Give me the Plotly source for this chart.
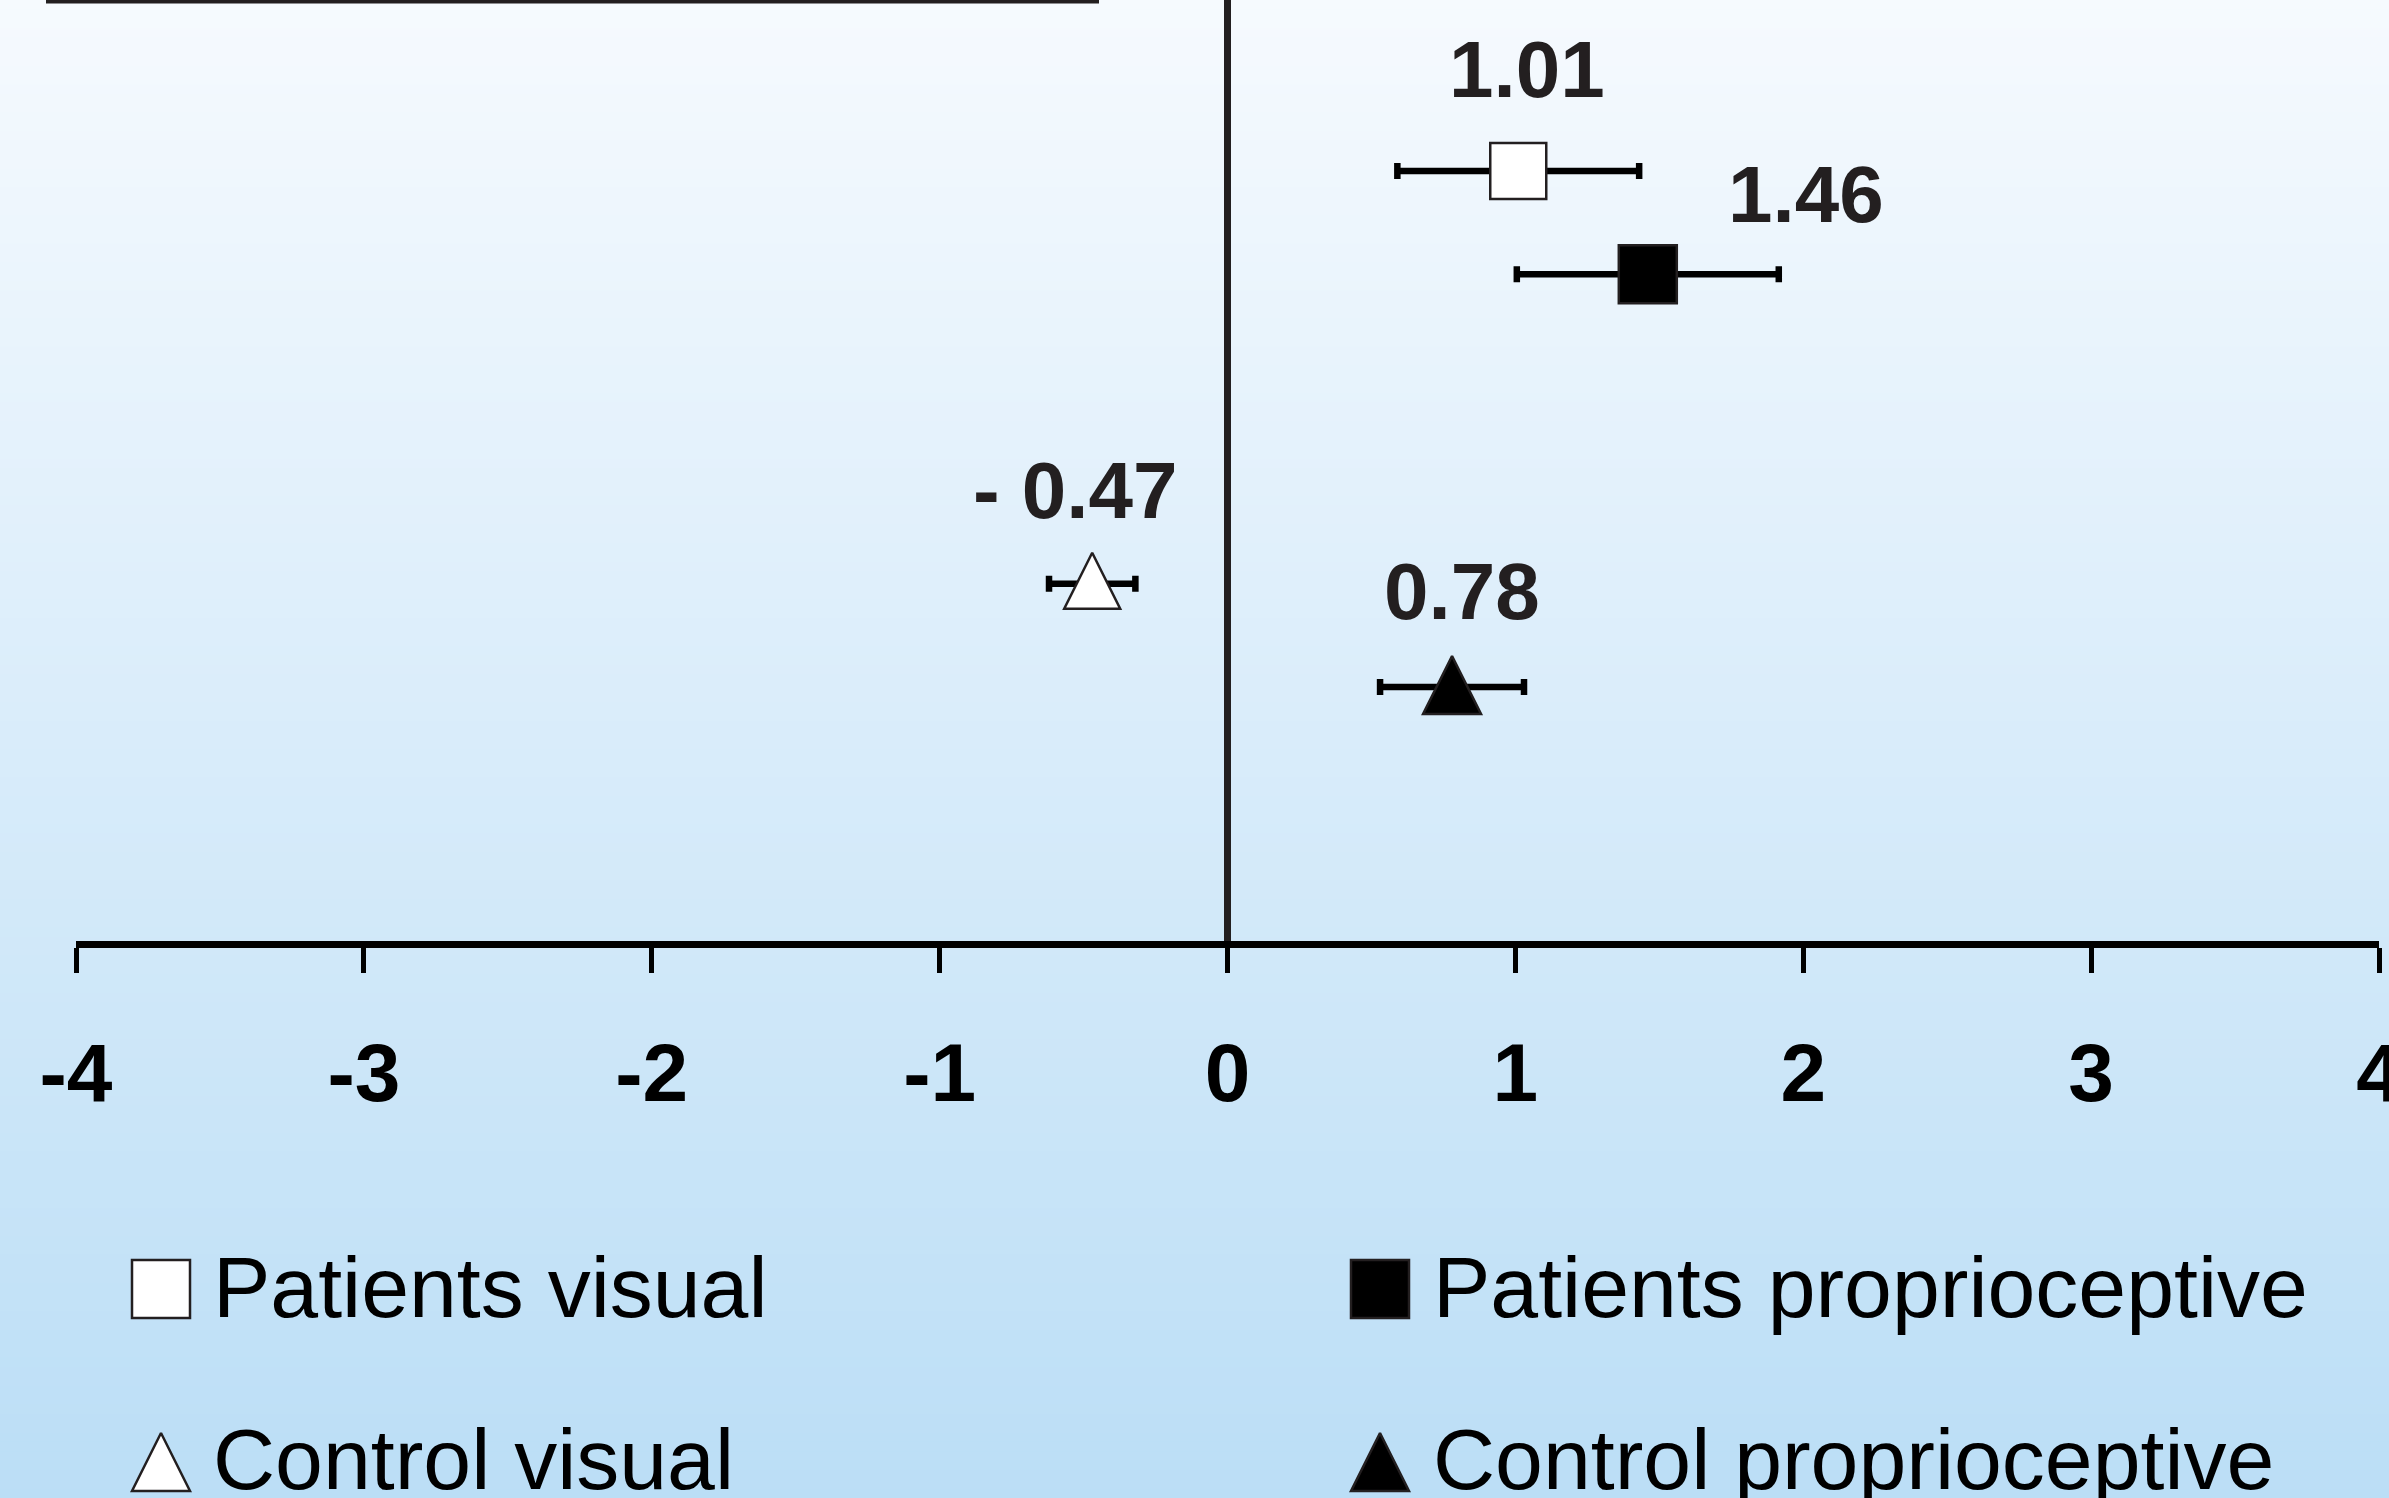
import plotly.graph_objects as go

# ---------------- data ----------------
groups = ["Patients visual", "Patients proprioceptive", "Control visual", "Control proprioceptive"]
means = [1.01, 1.46, -0.47, 0.78]
errors = [0.42, 0.455, 0.15, 0.25]
value_labels = ["1.01", "1.46", "- 0.47", "0.78"]
rows = [0, 1, 4, 5]           # ordinal row of each group (top to bottom)
tick_vals = [-4, -3, -2, -1, 0, 1, 2, 3, 4]
tick_text = ["-4", "-3", "-2", "-1", "0", "1", "2", "3", "4"]

# ---------------- styles / layout constants ----------------
W, H = 2389, 1498
X_LEFT_PX, X_RIGHT_PX = 76, 2379      # pixel positions of x=-4 and x=4
AXIS_PX = 941                          # bottom of main plot area
ROW0_PX = 171                          # pixel y of first row
ROW_PX = 103.2                         # pixels per row step
INK = "#231f20"
FONT = "Liberation Sans, Arial, sans-serif"

symbols = ["square", "square", "arrow-up", "arrow-up"]
fills = ["white", "black", "white", "black"]
msizes = [56, 58, 56, 58]
# label offsets (px) relative to each point: (dx, dy-up)
label_offsets = [(9, 102), (158, 80), (-17, 93), (10, 96)]
TRI_APEX_PX = 31   # triangle apex sits this far above its error bar

y_top = -ROW0_PX / ROW_PX
y_bot = (AXIS_PX - ROW0_PX) / ROW_PX

fig = go.Figure()

# background gradient (strips)
top_c = (246, 250, 254)
bot_c = (187, 222, 246)
N = 160
for i in range(N):
    t = (i + 0.5) / N
    c = tuple(round(top_c[k] + (bot_c[k] - top_c[k]) * t) for k in range(3))
    fig.add_shape(type="rect", xref="paper", yref="paper",
                  x0=0, x1=1, y0=1 - i / N, y1=1 - (i + 1) / N - 0.002,
                  fillcolor=f"rgb{c}", line_width=0, layer="below")

for g, m, e, r, sym, fc, ms in zip(groups, means, errors, rows, symbols, fills, msizes):
    # error bar
    fig.add_trace(go.Scatter(
        x=[m], y=[r], mode="markers",
        marker=dict(size=1, color="rgba(0,0,0,0)"),
        error_x=dict(type="data", array=[e], color="black", thickness=6.5, width=8),
        showlegend=False, hoverinfo="skip"))
    # marker
    ym = r - (TRI_APEX_PX / ROW_PX if sym == "arrow-up" else 0)
    fig.add_trace(go.Scatter(
        x=[m], y=[ym], mode="markers", name=g,
        marker=dict(symbol=sym, size=ms, color=fc, line=dict(color=INK, width=2.5)),
        showlegend=False))

for m, r, lab, (dx, dy) in zip(means, rows, value_labels, label_offsets):
    fig.add_annotation(x=m, y=r, xref="x", yref="y", text=lab, showarrow=False,
                       xshift=dx, yshift=dy, xanchor="center", yanchor="middle",
                       font=dict(family=FONT, size=80, color=INK, weight="bold"))

# ---------- legend (drawn manually on a pixel overlay axis) ----------
leg_marker_x = [161, 1380, 161, 1380]
leg_marker_y = [1289, 1289, 1433, 1433]
leg_text_x = [211, 1431, 211, 1431]
leg_text_y = [1287, 1287, 1459, 1459]
leg_sizes = [58, 58, 58, 58]
for g, sym, fc, mx, my, tx, ty, ls in zip(groups, symbols, fills, leg_marker_x, leg_marker_y,
                                          leg_text_x, leg_text_y, leg_sizes):
    fig.add_trace(go.Scatter(
        x=[mx], y=[my], xaxis="x2", yaxis="y2", mode="markers",
        marker=dict(symbol=sym, size=ls, color=fc, line=dict(color=INK, width=2.5)),
        showlegend=False, hoverinfo="skip"))
    fig.add_annotation(x=tx, y=ty, xref="x2", yref="y2", text=g, showarrow=False,
                       xanchor="left", yanchor="middle",
                       font=dict(family=FONT, size=86, color="black"))

# cut-off underline at the top edge
fig.add_shape(type="line", xref="x2", yref="y2", x0=46, x1=1099, y0=1.5, y1=1.5,
              line=dict(color=INK, width=4))

fig.update_layout(
    width=W, height=H,
    margin=dict(l=0, r=0, t=0, b=0, pad=0, autoexpand=False),
    paper_bgcolor="white",
    plot_bgcolor="rgba(0,0,0,0)",
    showlegend=False,
    xaxis=dict(
        domain=[X_LEFT_PX / W, X_RIGHT_PX / W], automargin=False,
        range=[-4, 4], tickvals=tick_vals, ticktext=tick_text,
        showgrid=False, zeroline=True, zerolinecolor=INK, zerolinewidth=6.5,
        showline=True, linecolor="black", linewidth=7,
        ticks="outside", ticklen=25, tickwidth=5, tickcolor="black",
        ticklabelstandoff=30, ticklabeloverflow="allow",
        tickfont=dict(family=FONT, size=82, color="black", weight="bold"),
        fixedrange=True),
    yaxis=dict(
        domain=[(H - AXIS_PX) / H, 1], automargin=False,
        range=[y_bot, y_top], visible=False, showgrid=False, zeroline=False,
        fixedrange=True),
    xaxis2=dict(domain=[0, 1], range=[0, W], visible=False, anchor="y2",
                automargin=False, fixedrange=True),
    yaxis2=dict(domain=[0, 1], range=[H, 0], visible=False, anchor="x2",
                automargin=False, fixedrange=True),
)

fig.write_html(
    "out.html",
    config={"displayModeBar": False},
    post_script="document.body.style.margin='0';document.body.style.overflow='hidden';",
)
